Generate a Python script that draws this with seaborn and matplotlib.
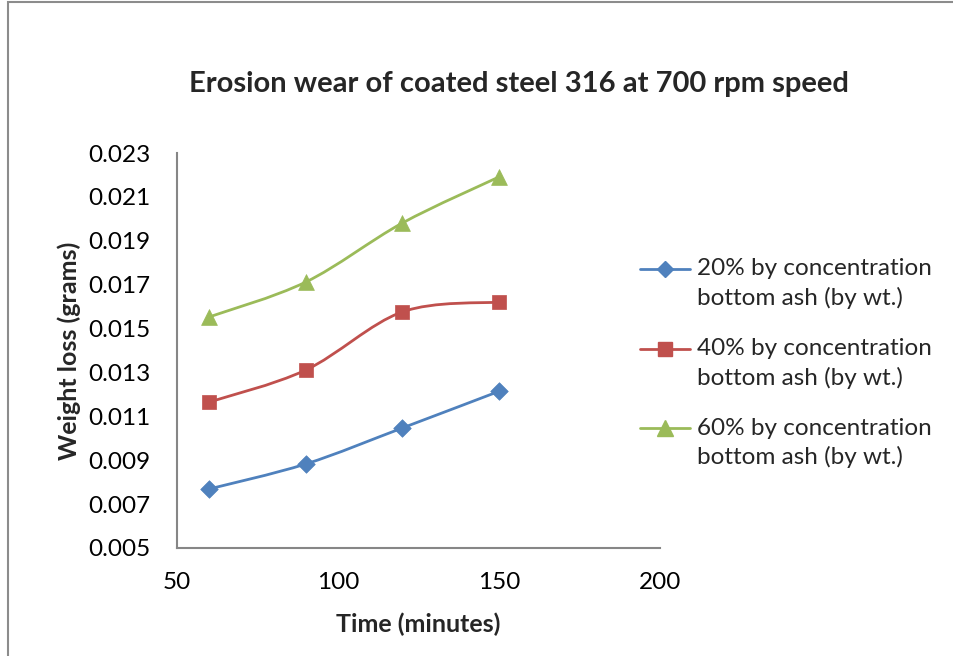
import numpy as np
import pandas as pd
import seaborn as sns
import matplotlib
matplotlib.use("Agg")
import matplotlib.pyplot as plt
from matplotlib.path import Path
from matplotlib.patches import PathPatch, Rectangle
from matplotlib.lines import Line2D
from matplotlib.legend_handler import HandlerLine2D

# Data
time_min = [60, 90, 120, 150]
loss_20 = [0.00769, 0.00883, 0.01047, 0.01214]
loss_40 = [0.01165, 0.01311, 0.01576, 0.01621]
loss_60 = [0.01553, 0.01712, 0.01981, 0.02191]
series_names = [
    "20% by concentration\nbottom ash (by wt.)",
    "40% by concentration\nbottom ash (by wt.)",
    "60% by concentration\nbottom ash (by wt.)",
]
colors = ["#4F81BD", "#C0504D", "#9BBB59"]
markers = ["D", "s", "^"]
marker_sizes = [80, 110, 130]
y_ticks = [0.005, 0.007, 0.009, 0.011, 0.013, 0.015, 0.017, 0.019, 0.021, 0.023]
x_ticks = [50, 100, 150, 200]

df = pd.DataFrame({
    "time": time_min * 3,
    "loss": loss_20 + loss_40 + loss_60,
    "series": sum([[n] * len(time_min) for n in series_names], []),
})

sns.set_theme(style="white")
plt.rcParams["font.family"] = ["Lato", "DejaVu Sans"]

fig = plt.figure(figsize=(9.54, 6.56), dpi=100)
ax = fig.add_axes([177 / 954, 1 - 548 / 656, (660 - 177) / 954, (548 - 153) / 656])

def smooth_path(xs, ys):
    """Bezier path through the points, with Catmull-Rom style control points."""
    pts = np.column_stack([xs, ys]).astype(float)
    n = len(pts)
    verts = [pts[0]]
    codes = [Path.MOVETO]
    for i in range(n - 1):
        p0 = pts[i - 1] if i > 0 else pts[i]
        p1 = pts[i]
        p2 = pts[i + 1]
        p3 = pts[i + 2] if i + 2 < n else pts[i + 1]
        c1 = p1 + (p2 - p0) / 6.0
        c2 = p2 - (p3 - p1) / 6.0
        verts += [c1, c2, p2]
        codes += [Path.CURVE4] * 3
    return Path(verts, codes)

for name, col in zip(series_names, colors):
    sub = df[df["series"] == name]
    ax.add_patch(PathPatch(smooth_path(sub["time"], sub["loss"]), facecolor="none",
                           edgecolor=col, lw=2.0, zorder=2, capstyle="round"))

for name, col, mk, ms in zip(series_names, colors, markers, marker_sizes):
    sub = df[df["series"] == name]
    sns.scatterplot(data=sub, x="time", y="loss", ax=ax, color=col, marker=mk,
                    s=ms, edgecolor=col, linewidth=0.5, zorder=3, legend=False)

ax.set_xlim(50, 200)
ax.set_ylim(0.005, 0.023)
ax.set_xticks(x_ticks)
ax.set_yticks(y_ticks)
ax.set_xticklabels([str(v) for v in x_ticks])
ax.set_yticklabels([f"{v:.3f}" for v in y_ticks])
ax.tick_params(axis="both", length=0, labelsize=17.5, colors="#000000")
ax.tick_params(axis="y", pad=19)
ax.tick_params(axis="x", pad=17)

for side in ["top", "right"]:
    ax.spines[side].set_visible(False)
for side in ["left", "bottom"]:
    ax.spines[side].set_color("#868686")
    ax.spines[side].set_linewidth(1.5)

ax.set_xlabel("Time (minutes)", fontsize=18, fontweight="bold", labelpad=14)
ax.set_ylabel("Weight loss (grams)", fontsize=18, fontweight="bold", labelpad=5)
fig.text(519 / 954, 1 - 84 / 656, "Erosion wear of coated steel 316 at 700 rpm speed",
         ha="center", va="center", fontsize=21, fontweight="bold")


class FirstLineHandler(HandlerLine2D):
    """Legend key placed level with the first line of a two-line label."""

    def __init__(self, shift, **kw):
        super().__init__(**kw)
        self.shift = shift

    def create_artists(self, legend, orig_handle, xdescent, ydescent, width,
                       height, fontsize, trans):
        arts = super().create_artists(legend, orig_handle, xdescent, ydescent,
                                      width, height, fontsize, trans)
        for a in arts:
            a.set_ydata(np.asarray(a.get_ydata(), dtype=float) + self.shift)
        return arts


handles = [Line2D([0], [0], color=c, lw=2.0, marker=m, markersize=s, markeredgecolor=c)
           for c, m, s in zip(colors, markers, [8, 10, 11])]
leg = fig.legend(handles, series_names, loc="upper left",
                 bbox_to_anchor=(640 / 954, 1 - 258 / 656), frameon=False,
                 fontsize=17.5, handlelength=2.05, handletextpad=0.3, labelspacing=1.2,
                 borderaxespad=0, borderpad=0,
                 handler_map={Line2D: FirstLineHandler(shift=10.5)})
for t in leg.get_texts():
    t.set_linespacing(1.42)

# Chart frame (left and top edges visible)
fig.add_artist(Rectangle((8 / 954, -0.2), 1.5, 1.2 - 1.5 / 656, transform=fig.transFigure,
                         fill=False, edgecolor="#8C8C8C", lw=1.5))

fig.savefig("out.png", dpi=100)
